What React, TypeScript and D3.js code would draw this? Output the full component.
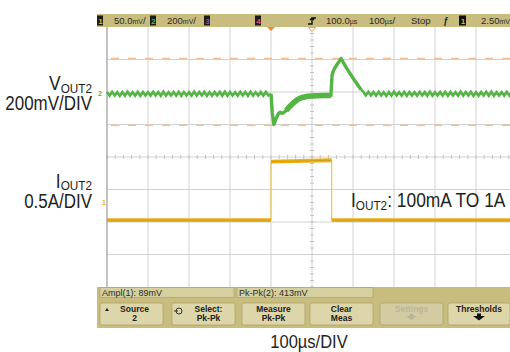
import React from "react";
import * as d3 from "d3";

// ---- Scope settings ----
const timeDomain: [number, number] = [-400, 600]; // µs, 100 µs/div, trigger at 0
const divX = 10;
const divY = 8;
const ch2Scale = 200; // mV/div
const ch2Position = 1.97; // divisions above centre
const ch1Scale = 0.5; // A/div
const ch1Position = -2.14; // divisions from centre

// ---- Channel 2: VOUT2 ripple before the load step (mV, every 6.25 µs from -400 µs) ----
const vSampleStep = 6.25;
const vPreStart = -400;
const vPreSamples = [
  6, -17, 7, -16, 5, -18, 6, -17,
  8, -16, 5, -17, 7, -18, 6, -16,
  5, -17, 7, -16, 6, -18, 8, -17,
  5, -16, 6, -17, 7, -18, 6, -16,
  5, -17, 8, -17, 6, -16, 7, -18,
  5, -17, 6, -16, 7, -17, 8, -18,
  6, -16, 5, -17, 7, -16, 6, -18,
  8, -17, 5, -16, 6, -17, 7, -16,
];
// Load-step transient (µs, mV)
const vTransientT = [0, 3, 7, 12, 18, 22, 26, 30, 37, 45, 55, 65, 75, 90, 110, 130, 146, 149, 152, 157, 171, 185, 200, 212, 220];
const vTransientV = [-6, -120, -195, -160, -128, -118, -126, -122, -108, -85, -60, -40, -28, -20, -17, -16, -16, 110, 135, 160, 212, 150, 92, 48, 20];
// Ripple after recovery (mV, every 6.25 µs from 225 µs)
const vPostStart = 225;
const vPostSamples = [
  8, -15, 7, -16, 6, -17, 7, -16,
  5, -18, 6, -17, 8, -16, 5, -17,
  7, -18, 6, -16, 5, -17, 7, -16,
  6, -18, 8, -17, 5, -16, 6, -17,
  7, -18, 6, -16, 5, -17, 8, -17,
  6, -16, 7, -18, 5, -17, 6, -16,
  7, -17, 8, -18, 6, -16, 5, -17,
  7, -16, 6, -18, 6,
];

// ---- Channel 1: IOUT2 load step (µs, A) ----
const iTimes = [-400, 0, 0, 148, 148, 600];
const iValues = [0.1, 0.1, 1.0, 1.02, 0.1, 0.1];

// Amplitude cursors on channel 2 (mV)
const cursorLevels = [212, -199];

// ---- Status lines ----
const measurements = ["Ampl(1): 89mV", "Pk-Pk(2): 413mV"];
const softkeys = [
  ["Source", "2"],
  ["Select:", "Pk-Pk"],
  ["Measure", "Pk-Pk"],
  ["Clear", "Meas"],
  ["Settings", ""],
  ["Thresholds", ""],
];

const KHAKI = "#c8bd7f";
const KEY = "#ddd6aa";
const KEY_EDGE = "#a99f62";
const GREEN = "#55b544";
const YELLOW = "#ecb015";
const CURSOR = "#f6bd8e";
const INK = "#231f20";
const UI_FONT = "'Liberation Sans', Arial, sans-serif";
const LABEL_FONT = "'Liberation Sans', Arial, Helvetica, sans-serif";

export default function App() {
  const left = 107;
  const top = 27;
  const divW = 41;
  const divH = 32.5;
  const right = left + divX * divW;
  const bottom = top + divY * divH;

  const x = d3.scaleLinear().domain(timeDomain).range([left, right]);
  const gx = d3.scaleLinear().domain([0, divX]).range([left, right]);
  const gy = d3.scaleLinear().domain([0, divY]).range([top, bottom]);
  const yV = d3
    .scaleLinear()
    .domain([(divY / 2 - ch2Position) * ch2Scale, -(divY / 2 + ch2Position) * ch2Scale])
    .range([top, bottom]);
  const yI = d3
    .scaleLinear()
    .domain([(divY / 2 - ch1Position) * ch1Scale, -(divY / 2 + ch1Position) * ch1Scale])
    .range([top, bottom]);

  const pre: [number, number][] = vPreSamples.map((v, i) => [vPreStart + i * vSampleStep, v]);
  const trans: [number, number][] = vTransientT.map((t, i) => [t, vTransientV[i]]);
  const post: [number, number][] = vPostSamples.map((v, i) => [vPostStart + i * vSampleStep, v]);
  const vLine = d3
    .line<[number, number]>()
    .x((d) => x(d[0]))
    .y((d) => yV(d[1]));
  const iPts: [number, number][] = iTimes.map((t, i) => [t, iValues[i]]);
  const iLine = d3
    .line<[number, number]>()
    .x((d) => x(d[0]))
    .y((d) => yI(d[1]));
  // split current record into flat levels (thick) and fast edges (thin)
  const iSegs = d3.pairs(iPts);
  const levels = iSegs.filter(([a, b]) => a[0] !== b[0]);
  const edges = iSegs.filter(([a, b]) => a[0] === b[0]);

  const cx = gx(divX / 2);
  const cy = gy(divY / 2);
  const minorX = d3.range(0, divX * 5 + 1).map((k) => gx(k / 5));
  const minorY = d3.range(0, divY * 5 + 1).map((k) => gy(k / 5));

  // softkey geometry
  const keyW = 63;
  const keyStarts = [100, 172, 242, 310, 380, 448];
  const measStarts = [100, 237];
  const measW = [134, 136];

  return (
    <svg
      width={510}
      height={352}
      viewBox="0 0 510 352"
      style={{ position: "absolute", left: 0, top: 0, background: "#fff" }}
    >
      <defs>
        <clipPath id="screen">
          <rect x={97} y={top} width={413} height={bottom - top} />
        </clipPath>
      </defs>
      <rect x={0} y={0} width={510} height={352} fill="#fff" />

      {/* graticule */}
      <g clipPath="url(#screen)">
        {d3.range(1, divX).map((i) => (
          <line key={"vx" + i} x1={gx(i)} x2={gx(i)} y1={top} y2={bottom} stroke="#d2d2d2" strokeWidth={1} />
        ))}
        {d3.range(1, divY).map((i) => (
          <line key={"hy" + i} x1={left} x2={510} y1={gy(i)} y2={gy(i)} stroke="#d2d2d2" strokeWidth={1} />
        ))}
        {minorX.map((mx, i) => (
          <line key={"mx" + i} x1={mx} x2={mx} y1={cy - 2} y2={cy + 2} stroke="#c4c4c4" strokeWidth={1} />
        ))}
        {minorY.map((my, i) => (
          <line key={"my" + i} x1={cx - 2} x2={cx + 2} y1={my} y2={my} stroke="#c4c4c4" strokeWidth={1} />
        ))}
        <line x1={left} x2={left} y1={top} y2={bottom} stroke="#9a9a9a" strokeWidth={1.2} />

        {/* amplitude cursors */}
        {cursorLevels.map((c, i) => (
          <line
            key={"cur" + i}
            x1={left}
            x2={510}
            y1={yV(c)}
            y2={yV(c)}
            stroke={CURSOR}
            strokeWidth={1.6}
            strokeDasharray="8 9"
            strokeDashoffset={-4}
          />
        ))}

        {/* channel 1: IOUT2 */}
        {edges.map((s, i) => (
          <path key={"ie" + i} d={iLine(s) ?? ""} fill="none" stroke="#f2c44a" strokeWidth={1.2} />
        ))}
        {levels.map((s, i) => (
          <g key={"il" + i}>
            <path d={iLine(s) ?? ""} fill="none" stroke={YELLOW} strokeWidth={3.8} />
            <path d={iLine(s) ?? ""} fill="none" stroke="#c08a10" strokeWidth={0.7} opacity={0.7} />
          </g>
        ))}

        {/* channel 2: VOUT2 */}
        <path d={vLine(pre.concat(trans.slice(0, 1))) ?? ""} fill="none" stroke={GREEN} strokeWidth={2.6} />
        <path d={vLine(trans) ?? ""} fill="none" stroke={GREEN} strokeWidth={3.4} strokeLinejoin="round" />
        <path
          d={vLine(trans.slice(8, 17)) ?? ""}
          fill="none"
          stroke={GREEN}
          strokeWidth={5.5}
          strokeLinejoin="round"
        />
        <path d={vLine(trans.slice(-1).concat(post)) ?? ""} fill="none" stroke={GREEN} strokeWidth={2.6} />
      </g>

      {/* channel reference markers */}
      <text x={98} y={yV(0) + 3} fontSize={7} fill={GREEN} fontFamily={UI_FONT} fontWeight="bold">2</text>
      <text x={102} y={205} fontSize={7} fill={YELLOW} fontFamily={UI_FONT} fontWeight="bold">1</text>

      {/* trigger markers */}
      <path d={`M${x(0) - 4},${top} L${x(0) + 4},${top} L${x(0)},${top + 4} Z`} fill="#f08a2c" />
      <path
        d={`M${x(100) - 3.5},${top + 0.5} L${x(100) + 3.5},${top + 0.5} L${x(100)},${top + 4.5} Z`}
        fill="#fff"
        stroke="#f0a060"
        strokeWidth={1}
      />

      {/* top status bar */}
      <rect x={97} y={14} width={413} height={13} fill={KHAKI} />
      <g fontFamily={UI_FONT} fontSize={9.5} fill="#2b2a22">
        <rect x={97} y={15.5} width={6} height={10} fill="#1c1c14" />
        <text x={98.3} y={24} fontSize={8} fill={YELLOW} fontWeight="bold">1</text>
        <text x={114} y={24}>50.0<tspan fontSize={7}>mV</tspan>/</text>
        <rect x={150} y={15.5} width={6} height={10} fill="#1c1c14" />
        <text x={151.3} y={24} fontSize={8} fill="#3cc060" fontWeight="bold">2</text>
        <text x={167} y={24}>200<tspan fontSize={7}>mV</tspan>/</text>
        <rect x={204} y={15.5} width={6} height={10} fill="#1c1c14" />
        <text x={205.3} y={24} fontSize={8} fill="#9050c0" fontWeight="bold">3</text>
        <rect x={255} y={15.5} width={6} height={10} fill="#1c1c14" />
        <text x={256.3} y={24} fontSize={8} fill="#e05090" fontWeight="bold">4</text>
        <path d="M308,24 h4 v-6 h4 M312,18 l-2,2 M312,18 l2,2" stroke="#111" strokeWidth={1.4} fill="none" />
        <text x={326} y={24}>100.0<tspan fontSize={7}>µs</tspan></text>
        <text x={369} y={24}>100<tspan fontSize={7}>µs</tspan>/</text>
        <text x={411} y={24}>Stop</text>
        <text x={443} y={24} fontStyle="italic" fontWeight="bold">ƒ</text>
        <rect x={459} y={15.5} width={7} height={10} fill="#111" />
        <text x={460.8} y={24} fontSize={8} fill={YELLOW} fontWeight="bold">1</text>
        <text x={481} y={24}>2.50<tspan fontSize={7}>mV</tspan></text>
      </g>

      {/* bottom softkey panel */}
      <rect x={97} y={bottom} width={413} height={41} fill={KHAKI} />
      <g fontFamily={UI_FONT} fontSize={9} fill="#2b2a22">
        {measurements.map((m, i) => (
          <g key={"m" + i}>
            <rect x={measStarts[i]} y={bottom + 0.5} width={measW[i]} height={10} fill="#d6cf9f" stroke={KEY_EDGE} strokeWidth={0.6} />
            <text x={measStarts[i] + 2} y={bottom + 8.5}>{m}</text>
          </g>
        ))}
        {softkeys.map((k, i) => {
          const kx = keyStarts[i];
          const w = i === 5 ? 62 : keyW;
          const mid = kx + w / 2 + (i === 0 ? 3 : i === 1 ? 5 : 0);
          const grey = i === 4;
          return (
            <g key={"k" + i}>
              <rect x={kx} y={303} width={w} height={22} rx={2} fill={grey ? "#d3cca3" : KEY} stroke={KEY_EDGE} strokeWidth={0.7} />
              <text x={mid} y={311.5} textAnchor="middle" fontWeight="bold" fontSize={8.5} fill={grey ? "#b9b49a" : "#24231c"}>
                {k[0]}
              </text>
              {k[1] && (
                <text x={mid} y={320.5} textAnchor="middle" fontWeight="bold" fontSize={8.5} fill="#24231c">
                  {k[1]}
                </text>
              )}
            </g>
          );
        })}
        {/* softkey glyphs */}
        <path d="M105,311 l2,-3 l2,3 Z" fill="#222" />
        <circle cx={179} cy={311} r={3} fill="none" stroke="#333" strokeWidth={1} />
        <path d="M174,311 h4" stroke="#333" strokeWidth={1} />
        <path d="M406,316 h11 l-5.5,4 Z M409.5,314 h4 v2 h-4 Z" fill="#b9b49a" />
        <path d="M473,316 h12 l-6,4.5 Z M477,313.5 h4 v2.5 h-4 Z" fill="#111" />
      </g>

      {/* annotations */}
      <g fontFamily={LABEL_FONT} fill={INK}>
        <g transform="translate(92,0) scale(0.87,1)">
          <text x={0} y={90.5} textAnchor="end" fontSize={20}>
            V<tspan fontSize={13.5} dy={2.5}>OUT2</tspan>
          </text>
          <text x={0} y={110.5} textAnchor="end" fontSize={19.5}>200mV/DIV</text>
          <text x={0} y={188} textAnchor="end" fontSize={20}>
            I<tspan fontSize={13.5} dy={2.5}>OUT2</tspan>
          </text>
          <text x={0} y={208.5} textAnchor="end" fontSize={19.5}>0.5A/DIV</text>
        </g>
        <g transform="translate(351,0) scale(0.87,1)">
          <text x={0} y={207} fontSize={20}>
            I<tspan fontSize={13.5} dy={3}>OUT2</tspan>
            <tspan dy={-3}>: 100mA TO 1A</tspan>
          </text>
        </g>
        <g transform="translate(309,0) scale(0.87,1)">
          <text x={0} y={348} textAnchor="middle" fontSize={19}>100µs/DIV</text>
        </g>
      </g>
    </svg>
  );
}
